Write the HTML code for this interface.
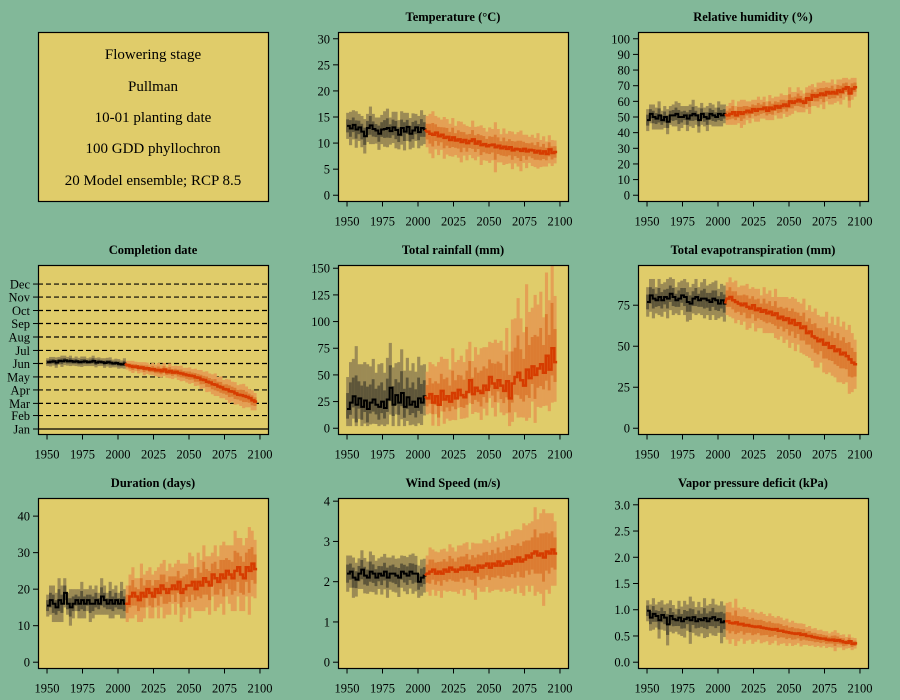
<!DOCTYPE html>
<html><head><meta charset="utf-8"><style>
body{margin:0;background:#82b899;}
svg{display:block;font-family:"Liberation Serif",serif;}
</style></head><body>
<svg id="fig" width="900" height="700" xmlns="http://www.w3.org/2000/svg">
<rect x="0" y="0" width="900" height="700" fill="#82b899"/>
<g>
<rect x="38.5" y="32.5" width="230" height="169" fill="#e0cc6a" stroke="#000" stroke-width="1.2"/>
<g font-size="15" text-anchor="middle" fill="#000">
<text x="153" y="59">Flowering stage</text>
<text x="153" y="91">Pullman</text>
<text x="153" y="122">10-01 planting date</text>
<text x="153" y="153">100 GDD phyllochron</text>
<text x="153" y="185">20 Model ensemble; RCP 8.5</text>
</g></g>
</svg>
<script>
const xTicks=[1950,1975,2000,2025,2050,2075,2100];
const monthLabels=["Jan","Feb","Mar","Apr","May","Jun","Jul","Aug","Sep","Oct","Nov","Dec"];
const monthDays=[1,32,60,91,121,152,182,213,244,274,305,335];

const tempMed=[13.3,12.8,13.5,12.6,13.0,12.2,11.3,12.9,13.4,12.7,12.4,11.8,12.6,12.7,12.9,12.3,13.0,12.5,11.6,12.9,12.2,13.1,11.8,12.4,13.0,12.1,12.9,12.6,
12.2,11.8,11.6,12.0,11.3,11.6,11.0,11.2,10.6,11.1,10.5,10.7,10.2,10.6,10.0,10.4,10.7,9.9,10.3,9.6,9.8,9.4,9.6,9.7,9.2,9.5,9.0,9.3,8.9,9.2,8.6,8.9,8.8,8.5,8.9,8.4,8.7,8.6,8.2,8.5,8.0,8.4,7.9,8.8,8.1,8.3];
const tempSpread=[2.5,3.2,2.8,3.5,2.6,3.0,3.3,2.7,3.6,2.9,2.5,3.1,2.8,3.4,3.7,2.6,3.0,3.5,2.8,3.2,3.6,2.7,3.0,3.3,2.6,3.1,3.4,2.8,
3.0,3.8,4.5,3.2,3.6,2.9,4.0,3.4,3.1,3.7,2.8,3.5,3.9,3.0,3.3,2.7,3.6,3.2,2.9,3.8,3.1,2.8,3.4,3.0,4.8,3.2,2.7,3.5,2.9,3.1,3.6,2.8,3.3,3.9,2.7,3.2,2.5,3.0,2.8,3.4,2.6,2.9,2.4,2.7,2.5,2.2];

const rhMed=[48,52,50,49,51,48,50,47,51,51,52,50,50,51,49,51,52,51,48,52,50,49,52,51,50,52,51,52,
51,52,53,51,53,52,53,54,53,55,54,55,55,56,54,56,55,57,56,57,58,57,60,59,60,61,60,59,62,61,64,63,64,65,64,66,65,66,65,67,66,68,69,65,68,69];
const rhSpread=[7,6,8,7,9,6,7,8,6,7,8,9,7,6,8,7,9,6,8,7,6,8,7,7,6,8,7,6,
6,7,8,6,7,9,8,6,7,6,7,8,6,7,6,8,7,6,7,8,6,7,9,7,6,8,7,6,7,9,7,6,8,7,9,6,7,8,6,7,8,7,6,9,7,6];

const dateMed=[155,156,157,154,158,157,159,157,158,156,157,155,156,157,155,156,158,154,156,155,153,155,154,152,153,151,150,152,
148,146,144,145,142,143,140,141,138,139,136,137,134,138,132,135,131,133,130,129,127,125,124,123,120,119,115,114,110,108,104,103,99,97,93,92,88,87,83,80,79,77,75,72,67,64];
const dateSpread=[9,11,10,12,9,13,11,10,12,9,11,10,12,11,9,10,12,11,10,9,11,10,12,9,10,11,9,12,
10,12,14,11,13,12,15,13,12,14,13,16,14,15,13,17,15,14,16,18,15,17,19,16,20,18,22,19,24,21,23,26,22,25,21,24,27,23,26,22,25,28,24,21,23,20];

const rainMed=[18,24,30,22,28,20,26,18,24,27,22,20,25,19,27,38,22,31,24,33,20,29,22,25,20,28,24,30,
28,32,24,30,22,35,27,30,25,33,28,36,31,29,34,45,32,38,35,33,40,36,48,42,38,45,40,35,44,28,42,48,52,45,40,55,47,58,50,56,60,52,68,55,75,62];
const rainSpread=[30,38,35,55,32,40,36,42,34,38,30,40,36,33,39,42,35,30,38,41,34,37,32,36,33,39,35,30,
25,30,36,28,40,32,38,35,30,42,34,28,37,33,40,36,31,38,34,42,36,40,33,38,45,35,42,38,50,44,60,55,70,58,50,80,62,55,75,60,68,52,78,65,85,62];

const etMed=[77,81,79,78,80,78,80,79,82,80,78,79,81,80,77,76,79,80,78,79,79,78,77,79,78,76,78,76,
79,80,78,77,76,75,76,74,73,75,72,73,71,72,70,71,69,70,67,68,66,67,64,66,63,64,61,62,58,59,56,55,53,54,51,52,49,50,47,48,45,46,44,42,40,39];
const etSpread=[9,10,12,8,11,10,9,12,10,11,8,10,9,11,12,10,9,11,8,10,12,9,11,10,12,9,10,11,
10,12,11,13,10,12,11,14,12,11,13,12,10,14,12,13,11,15,13,12,14,13,15,14,16,13,15,17,14,16,15,18,16,14,17,19,15,18,16,20,17,19,16,21,18,15];

const durMed=[15.5,17,16,15,17,16,19,16,15,16,17,16,17,16,17,16,16,17,16,18,17,16,17,16,17,16,17,16,
16,18,19,18,17,19,18,20,19,18,20,19,21,20,19,20,21,20,22,19,20,21,21,22,20,22,21,23,22,21,24,23,22,24,23,25,24,23,25,26,24,23,26,25,27,25.5];
const durSpread=[3,4,5,4,6,5,4,3,5,4,3,4,5,4,3,5,4,4,3,5,4,3,5,4,4,3,5,4,
5,6,7,5,6,8,6,5,7,6,5,7,6,8,6,7,5,7,6,8,7,6,9,7,6,8,7,9,7,8,6,9,7,8,10,7,8,9,11,8,10,9,8,12,9,8];

const windMed=[2.2,2.25,2.1,2.05,2.2,2.3,2.15,2.1,2.25,2.2,2.1,2.2,2.15,2.25,2.1,2.2,2.2,2.15,2.1,2.25,2.2,2.15,2.25,2.2,2.2,2.0,2.1,2.15,
2.2,2.25,2.3,2.2,2.25,2.2,2.3,2.25,2.35,2.3,2.25,2.3,2.35,2.3,2.4,2.3,2.35,2.25,2.4,2.35,2.4,2.45,2.35,2.45,2.4,2.5,2.4,2.45,2.5,2.45,2.55,2.5,2.6,2.5,2.55,2.65,2.6,2.7,2.75,2.65,2.7,2.6,2.75,2.7,2.8,2.7];
const windSpread=[.45,.4,.5,.42,.38,.48,.44,.4,.5,.46,.42,.38,.47,.44,.5,.4,.45,.42,.48,.4,.44,.46,.42,.5,.44,.4,.45,.42,
.45,.6,.5,.55,.48,.6,.52,.5,.58,.55,.5,.6,.55,.65,.58,.5,.62,.7,.55,.6,.65,.58,.62,.68,.6,.7,.65,.62,.75,.68,.72,.8,.7,.78,.9,.75,.85,.8,1.1,.9,1.0,1.2,.95,1.0,.9,.8];

const vpdMed=[.98,.85,.92,.88,.8,.9,.85,.72,.88,.82,.8,.85,.78,.82,.85,.8,.86,.78,.82,.8,.84,.78,.83,.86,.8,.82,.76,.78,
.78,.75,.74,.76,.72,.73,.7,.71,.69,.68,.67,.68,.66,.65,.64,.63,.62,.63,.6,.6,.58,.57,.56,.55,.54,.55,.52,.53,.5,.5,.48,.47,.46,.45,.45,.43,.42,.43,.41,.42,.4,.38,.37,.4,.35,.36];
const vpdSpread=[.2,.25,.3,.22,.35,.28,.25,.4,.3,.27,.22,.32,.28,.35,.25,.45,.3,.27,.33,.25,.38,.3,.28,.35,.3,.26,.4,.3,
.35,.4,.3,.45,.32,.28,.35,.3,.26,.33,.28,.25,.3,.27,.24,.3,.26,.22,.28,.25,.22,.26,.2,.24,.21,.19,.22,.2,.17,.19,.16,.18,.15,.17,.14,.16,.13,.15,.2,.14,.12,.15,.11,.13,.12,.1];

const tempTicks=[0,5,10,15,20,25,30];
const rhTicks=[0,10,20,30,40,50,60,70,80,90,100];
const rainTicks=[0,25,50,75,100,125,150];
const etTicks=[0,25,50,75];
const durTicks=[0,10,20,30,40];
const windTicks=[0,1,2,3,4];
const vpdTicks=[0,0.5,1,1.5,2,2.5,3];

const svg=document.getElementById('fig');
const NS='http://www.w3.org/2000/svg';
function mk(tag,attrs,parent){const e=document.createElementNS(NS,tag);for(const k in attrs)e.setAttribute(k,attrs[k]);parent.appendChild(e);return e;}

function panel(opt){
  const L=opt.x,T=opt.y,W=230,H=opt.h;
  const g=mk('g',{},svg);
  
  
  const bg=mk('rect',{x:L+0.5,y:T+0.5,width:W,height:H,fill:'#e0cc6a'},g);
  
  
  const px0=L+0.5+W*0.04/1.08, pw=W/1.08;
  const xs=v=>px0+(v-1950)/150*pw;
  const [y0,y1]=opt.ylim;
  const ph=H/1.08, pb=T+0.5+H-H*0.04/1.08;
  const ys=v=>pb-(v-y0)/(y1-y0)*ph;
  const clip='c'+opt.name;
  const cp=mk('clipPath',{id:clip},g);
  mk('rect',{x:L+0.5,y:T+0.5,width:W,height:H},cp);
  const dg=mk('g',{'clip-path':'url(#'+clip+')'},g);
  if(opt.months){
    monthDays.forEach((d,k)=>{
      const ln=mk('line',{x1:L,x2:L+W,y1:ys(d),y2:ys(d),stroke:'#000','stroke-width':1.2,'stroke-dasharray':k==0?'none':'5,3'},dg);
      
      
    });
  }
  const med=opt.med,sp=opt.sp,lo=opt.loSkew||1,fl=opt.floor;
  const bars=mk('g',{},dg);
  
  
  for(let i=0;i<med.length;i++){
    const yr=1950+2*i, hist=i<28;
    const xa=xs(yr-0.6), xb=xs(yr+1.6);
    const cols=hist?['#9c8b55','#5e563a']:['#e4a055','#dc7c32'];
    [1,0.5].forEach((f,j)=>{
      let top=med[i]+sp[i]*f, bot=med[i]-sp[i]*f*lo;
      if(fl!==undefined&&bot<fl)bot=fl;
      const r=mk('rect',{x:xa,y:ys(top),width:xb-xa,height:Math.max(0,ys(bot)-ys(top)),fill:cols[j]},bars);
      
      
    });
  }
  let hp='',fp='';
  for(let i=0;i<med.length;i++){
    const yr=1950+2*i;const pt=xs(yr)+','+ys(med[i])+' '+xs(yr+2)+','+ys(med[i])+' ';
    if(i<28)hp+=pt;else fp+=pt;
  }
  fp=xs(2005)+','+ys(med[27])+' '+fp;
  const hl=mk('polyline',{points:hp,fill:'none',stroke:'#000','stroke-width':2},dg);
  
  
  const fpl=mk('polyline',{points:fp,fill:'none',stroke:'#d63c00','stroke-width':2.5},dg);
  
  
  const fr=mk('rect',{x:L+0.5,y:T+0.5,width:W,height:H,fill:'none',stroke:'#000','stroke-width':1.2},g);
  
  
  const t=mk('text',{x:L+W/2,y:T-11,'text-anchor':'middle','font-size':12.5,'font-weight':'bold'},g);
  t.textContent=opt.title;
  
  
  const xa=mk('g',{},g);
  
  
  const by=T+H+0.5;
  mk('line',{x1:xs(1950),x2:xs(2100),y1:by,y2:by,stroke:'#000'},xa);
  xTicks.forEach(v=>{
    mk('line',{x1:xs(v),x2:xs(v),y1:by,y2:by+5,stroke:'#000'},xa);
    const tl=mk('text',{x:xs(v),y:by+24,'text-anchor':'middle','font-size':12.5},xa);
    tl.textContent=v;
    
    
  });
  const ya=mk('g',{},g);
  
  
  const vals=opt.months?monthDays:opt.ticks;
  mk('line',{x1:L+0.5,x2:L+0.5,y1:ys(vals[0]),y2:ys(vals[vals.length-1]),stroke:'#000'},ya);
  vals.forEach((v,k)=>{
    mk('line',{x1:L+0.5,x2:L-5,y1:ys(v),y2:ys(v),stroke:'#000'},ya);
    const tl=mk('text',{x:L-8,y:ys(v)+4.5,'text-anchor':'end','font-size':12.5},ya);
    tl.textContent=opt.months?monthLabels[k]:(opt.fmt?opt.fmt(v):v);
    
    
  });
}
const C=[38,338,638],R=[32,265,498];
panel({name:'temperature-panel',title:'Temperature (°C)',x:C[1],y:R[0],h:169,ylim:[0,30],med:tempMed,sp:tempSpread,ticks:tempTicks});
panel({name:'humidity-panel',title:'Relative humidity (%)',x:C[2],y:R[0],h:169,ylim:[0,100],med:rhMed,sp:rhSpread,ticks:rhTicks});
panel({name:'completion-date-panel',title:'Completion date',x:C[0],y:R[1],h:169,ylim:[2.75,363.3],med:dateMed,sp:dateSpread,months:true});
panel({name:'rainfall-panel',title:'Total rainfall (mm)',x:C[1],y:R[1],h:169,ylim:[0,146.7],med:rainMed,sp:rainSpread,loSkew:0.6,floor:2,ticks:rainTicks});
panel({name:'evapotranspiration-panel',title:'Total evapotranspiration (mm)',x:C[2],y:R[1],h:169,ylim:[0,95.4],med:etMed,sp:etSpread,ticks:etTicks});
panel({name:'duration-panel',title:'Duration (days)',x:C[0],y:R[2],h:170,ylim:[0,43.1],med:durMed,sp:durSpread,ticks:durTicks});
panel({name:'wind-speed-panel',title:'Wind Speed (m/s)',x:C[1],y:R[2],h:170,ylim:[0,3.91],med:windMed,sp:windSpread,ticks:windTicks});
panel({name:'vpd-panel',title:'Vapor pressure deficit (kPa)',x:C[2],y:R[2],h:170,ylim:[0,3.0],med:vpdMed,sp:vpdSpread,ticks:vpdTicks,fmt:v=>v.toFixed(1)});
</script>
</body></html>
